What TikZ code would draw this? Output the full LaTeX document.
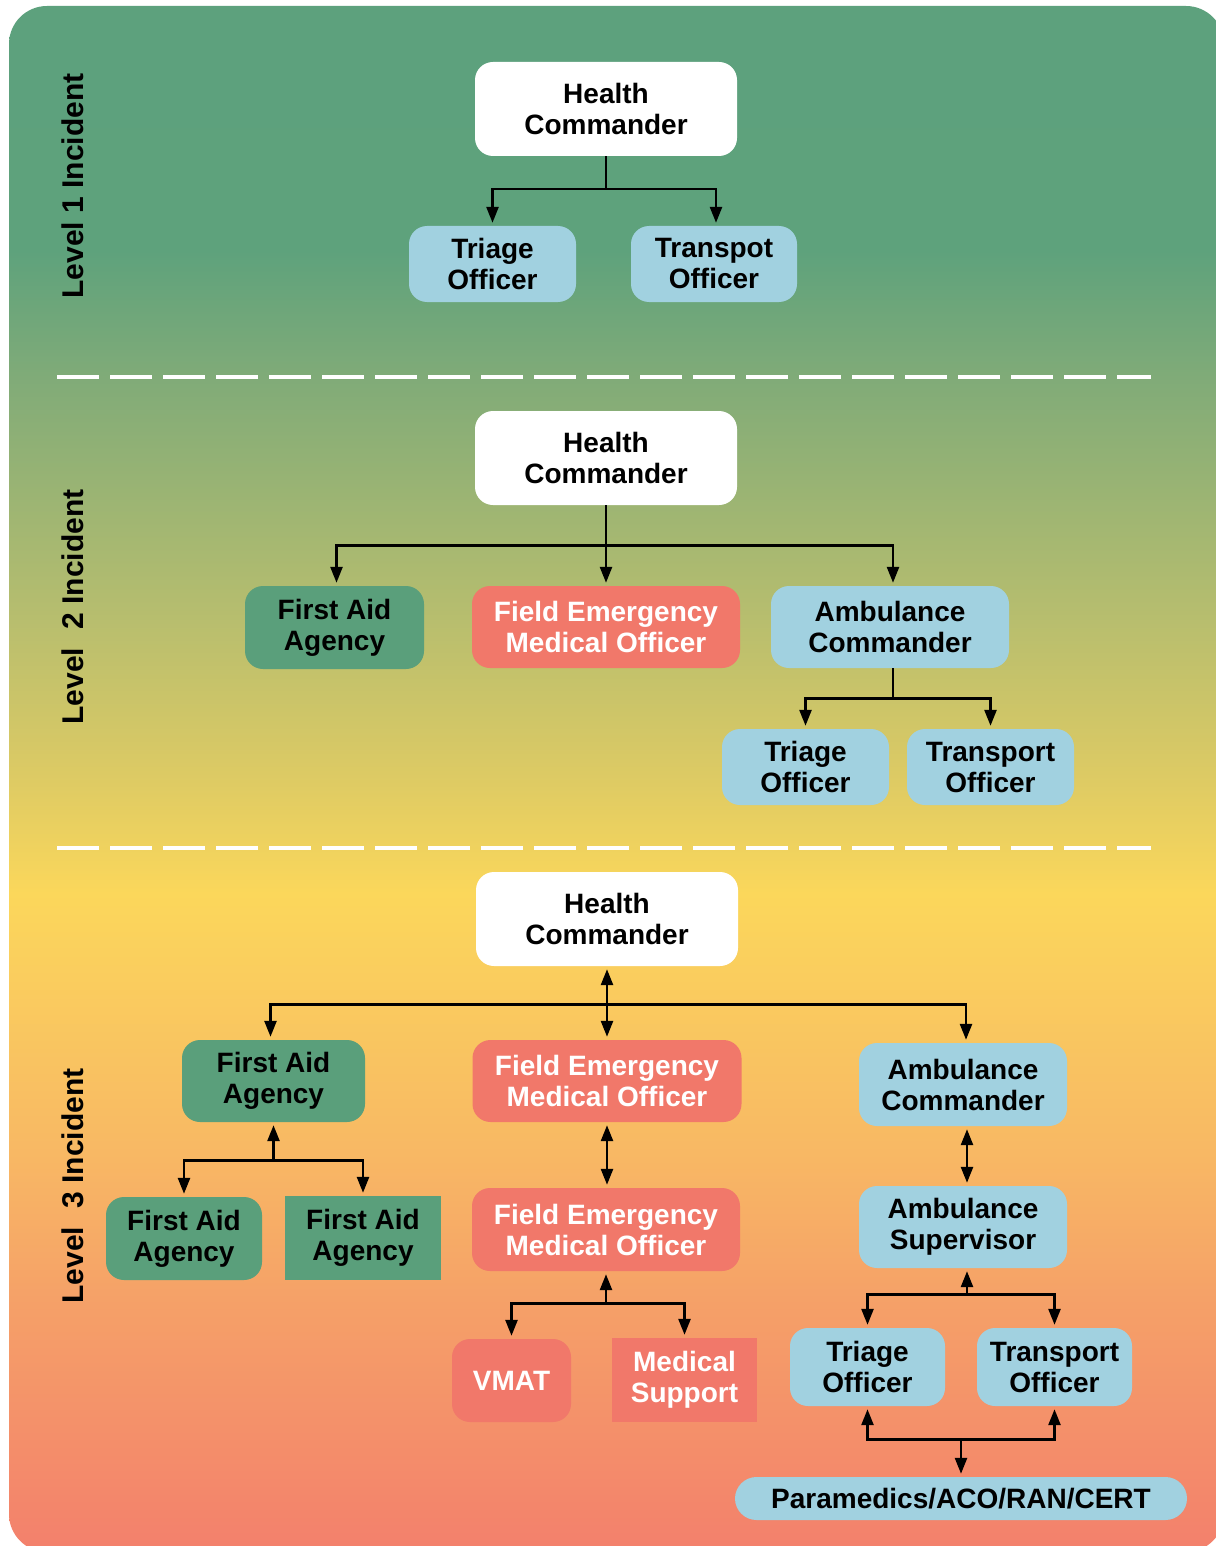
\documentclass[tikz,border=0pt]{standalone}
\usepackage{fontspec}
\setmainfont{Liberation Sans}
\usetikzlibrary{arrows.meta,calc}

% background gradient colours (top to bottom)
\definecolor{bgA}{HTML}{5DA17D}
\definecolor{bgB}{HTML}{5EA27C}
\definecolor{bgC}{HTML}{80AB78}
\definecolor{bgD}{HTML}{B8BE6E}
\definecolor{bgE}{HTML}{DCCA64}
\definecolor{bgF}{HTML}{FBD75B}
\definecolor{bgG}{HTML}{F8B864}
\definecolor{bgH}{HTML}{F5A068}
\definecolor{bgI}{HTML}{F3806C}
% box colours
\definecolor{boxblue}{HTML}{A1D1E0}
\definecolor{boxgreen}{HTML}{5A9F7B}
\definecolor{boxred}{HTML}{F1786A}

\pgfdeclareverticalshading{levelshade}{100bp}{%
  color(0bp)=(bgI); color(25bp)=(bgI); color(33bp)=(bgH); color(37.9bp)=(bgG);
  color(46.3bp)=(bgF); color(50.2bp)=(bgE); color(55.1bp)=(bgD);
  color(63bp)=(bgC); color(67.1bp)=(bgB); color(75bp)=(bgA); color(100bp)=(bgA)}

\tikzset{
  orgbox/.style={rounded corners=18pt, align=center, inner sep=0pt,
    font=\fontsize{28}{31}\selectfont\bfseries, text=black},
  whitebox/.style={orgbox, fill=white},
  bluebox/.style={orgbox, fill=boxblue},
  greenbox/.style={orgbox, fill=boxgreen},
  redbox/.style={orgbox, fill=boxred, text=white},
  levellabel/.style={rotate=90, anchor=base, font=\fontsize{30}{30}\selectfont\bfseries},
  link/.style={line width=2.6pt, draw=black},
  tip/.tip={Triangle[length=16pt,width=12pt]},
  arr/.style={link, -tip, shorten >=3pt},
  backarr/.style={link, tip-, shorten <=3pt},
  dblarr/.style={link, tip-tip, shorten <=3pt, shorten >=3pt},
  divider/.style={draw=white, line width=4pt, dash pattern=on 42pt off 11pt}
}

\begin{document}
\begin{tikzpicture}[x=1pt,y=-1pt]
\useasboundingbox (0,0) rectangle (1215,1546);

% background panel
\path[shading=levelshade, rounded corners=38pt] (9,6) rectangle (1224,1552);

% level dividers
\draw[divider] (57,377) -- (1151,377);
\draw[divider] (57,848) -- (1151,848);

% level labels
\node[levellabel] (lv1) at (83,186) {Level 1 Incident};
\node[levellabel] (lv2) at (83,607) {Level\hspace{10pt} 2 Incident};
\node[levellabel] (lv3) at (83,1186) {Level\hspace{10pt} 3 Incident};

% ---- Level 1 ----
\node[whitebox, minimum width=262pt, minimum height=94pt] (hc1) at (606,109) {Health\\Commander};
\node[bluebox, minimum width=167pt, minimum height=76pt] (tri1) at (492.5,264) {Triage\\Officer};
\node[bluebox, minimum width=166pt, minimum height=76pt] (trp1) at (714,264) {Transpot\\Officer};

\draw[arr] (hc1.south) -- ++(0,33) -| (tri1.north);
\draw[arr] (hc1.south) ++(0,33) -| ([xshift=2pt]trp1.north);

% ---- Level 2 ----
\node[whitebox, minimum width=262pt, minimum height=94pt] (hc2) at (606,458) {Health\\Commander};
\node[greenbox, minimum width=179pt, minimum height=83pt] (faa2) at (334.5,627.5) {First Aid\\Agency};
\node[redbox, minimum width=268pt, minimum height=82pt] (femo2) at (606,627) {Field Emergency\\Medical Officer};
\node[bluebox, minimum width=238pt, minimum height=82pt] (ambc2) at (890,627) {Ambulance\\Commander};
\node[bluebox, minimum width=167pt, minimum height=76pt] (tri2) at (805.5,767) {Triage\\Officer};
\node[bluebox, minimum width=167pt, minimum height=76pt] (trp2) at (990.5,767) {Transport\\Officer};

\draw[arr] (hc2.south) -- (femo2.north);
\draw[arr] (hc2.south) ++(0,40) -| ([xshift=2pt]faa2.north);
\draw[arr] (hc2.south) ++(0,40) -| ([xshift=3pt]ambc2.north);
\draw[arr] ([xshift=3pt]ambc2.south) -- ++(0,30) -| (tri2.north);
\draw[arr] ([xshift=3pt]ambc2.south) ++(0,30) -| (trp2.north);

% ---- Level 3 ----
\node[whitebox, minimum width=262pt, minimum height=94pt] (hc3) at (607,919) {Health\\Commander};
\node[greenbox, minimum width=183pt, minimum height=82pt] (faa3) at (273.5,1081) {First Aid\\Agency};
\node[redbox, minimum width=269pt, minimum height=82pt] (femo3a) at (607,1081) {Field Emergency\\Medical Officer};
\node[bluebox, minimum width=208pt, minimum height=83pt] (ambc3) at (963,1084.5) {Ambulance\\Commander};
\node[greenbox, minimum width=156pt, minimum height=83pt] (faa3a) at (184,1238.5) {First Aid\\Agency};
\node[greenbox, sharp corners, minimum width=156pt, minimum height=84pt] (faa3b) at (363,1238) {First Aid\\Agency};
\node[redbox, minimum width=268pt, minimum height=83pt] (femo3b) at (606,1229.5) {Field Emergency\\Medical Officer};
\node[bluebox, minimum width=208pt, minimum height=82pt] (ambs3) at (963,1227) {Ambulance\\Supervisor};
\node[redbox, minimum width=119pt, minimum height=83pt] (vmat) at (511.5,1380.5) {VMAT};
\node[redbox, sharp corners, minimum width=145pt, minimum height=84pt] (medsup) at (684.5,1380) {Medical\\Support};
\node[bluebox, minimum width=155pt, minimum height=78pt] (tri3) at (867.5,1367) {Triage\\Officer};
\node[bluebox, minimum width=155pt, minimum height=78pt] (trp3) at (1054.5,1367) {Transport\\Officer};
\node[bluebox, rounded corners=21.5pt, minimum width=452pt, minimum height=43pt] (para) at (961,1498.5) {Paramedics/ACO/RAN/CERT};

\draw[dblarr] (hc3.south) -- (femo3a.north);
\draw[arr] (hc3.south) ++(0,38) -| ([xshift=-3pt]faa3.north);
\draw[arr] (hc3.south) ++(0,38) -| ([xshift=3pt]ambc3.north);

\draw[backarr] (faa3.south) -- ++(0,38);
\draw[arr] (faa3.south) ++(0,38) -| (faa3a.north);
\draw[arr] (faa3.south) ++(0,38) -| (faa3b.north);

\draw[dblarr] (femo3a.south) -- (femo3a.south |- femo3b.north);
\draw[backarr] (femo3b.south) -- ++(0,32);
\draw[arr] (femo3b.south) ++(0,32) -| (vmat.north);
\draw[arr] (femo3b.south) ++(0,32) -| (medsup.north);

\draw[dblarr] ([xshift=4pt]ambc3.south) -- ([xshift=4pt]ambs3.north);
\draw[backarr] ([xshift=4pt]ambs3.south) -- ++(0,26);
\draw[arr] ([xshift=4pt]ambs3.south) ++(0,26) -| (tri3.north);
\draw[arr] ([xshift=4pt]ambs3.south) ++(0,26) -| (trp3.north);

\draw[dblarr] (tri3.south) -- ++(0,33) -| (trp3.south);
\draw[arr] (para.north) ++(0,-37) -- (para.north);
\end{tikzpicture}
\end{document}
